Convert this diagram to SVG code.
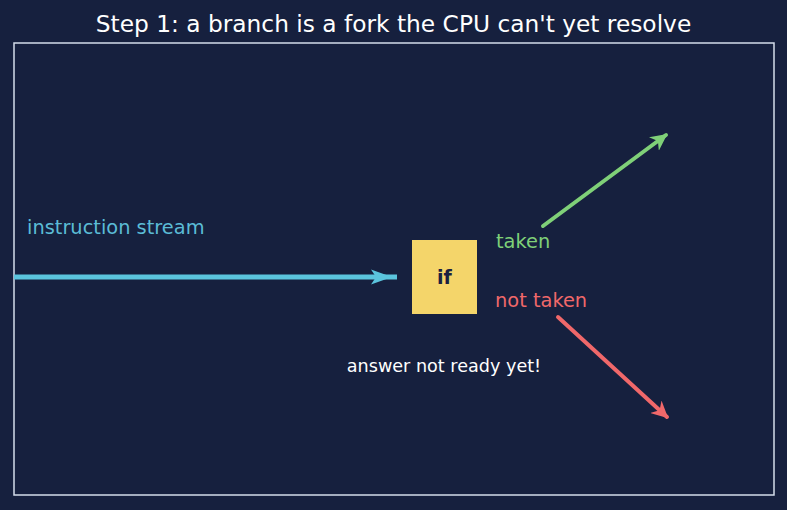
<svg xmlns="http://www.w3.org/2000/svg" width="787" height="510" viewBox="0 0 787 510">
<style>
text{font-family:"DejaVu Sans","Liberation Sans",sans-serif}
.lbl{font-size:19.4px}
</style>
<defs>
<marker id="hg" viewBox="0 0 10 10" refX="9" refY="5" markerWidth="4.2" markerHeight="4.2" orient="auto" markerUnits="strokeWidth"><path d="M0,0 L10,5 L0,10 L3,5 z" fill="#7fd078"/></marker>
<marker id="hr" viewBox="0 0 10 10" refX="9" refY="5" markerWidth="4.2" markerHeight="4.2" orient="auto" markerUnits="strokeWidth"><path d="M0,0 L10,5 L0,10 L3,5 z" fill="#f0686a"/></marker>
</defs>
<rect width="787" height="510" fill="#16203e"/>
<text x="393.5" y="32" text-anchor="middle" fill="#ffffff" font-size="23.3">Step 1: a branch is a fork the CPU can't yet resolve</text>
<rect x="14" y="43" width="760" height="452" fill="none" stroke="#d4dcea" stroke-width="1.5"/>
<g id="connectors" fill="none" stroke-linecap="round">
<line x1="14" y1="277" x2="397" y2="277" stroke="#5bc4dd" stroke-width="5" stroke-linecap="butt"/>
<path d="M371,269.5 L392,277 L371,284.5 L376,277 z" fill="#5bc4dd"/>
<line x1="543" y1="226" x2="666" y2="135" stroke="#7fd078" stroke-width="4" marker-end="url(#hg)"/>
<line x1="558" y1="317" x2="667" y2="417" stroke="#f0686a" stroke-width="4" marker-end="url(#hr)"/>
</g>
<g id="stream"><text x="27" y="234" class="lbl" fill="#5bbcd6">instruction stream</text></g>
<g id="if"><rect x="412" y="240" width="65" height="74" fill="#f4d56a"/><text x="444.5" y="284" text-anchor="middle" font-weight="bold" font-size="19" fill="#1a2040">if</text></g>
<g id="taken"><text x="496" y="248" class="lbl" fill="#7fd078">taken</text></g>
<g id="nottaken"><text x="495" y="307" class="lbl" fill="#f0686a">not taken</text></g>
<g id="note"><text x="444" y="372" text-anchor="middle" font-size="17.6" fill="#ffffff">answer not ready yet!</text></g>
</svg>
